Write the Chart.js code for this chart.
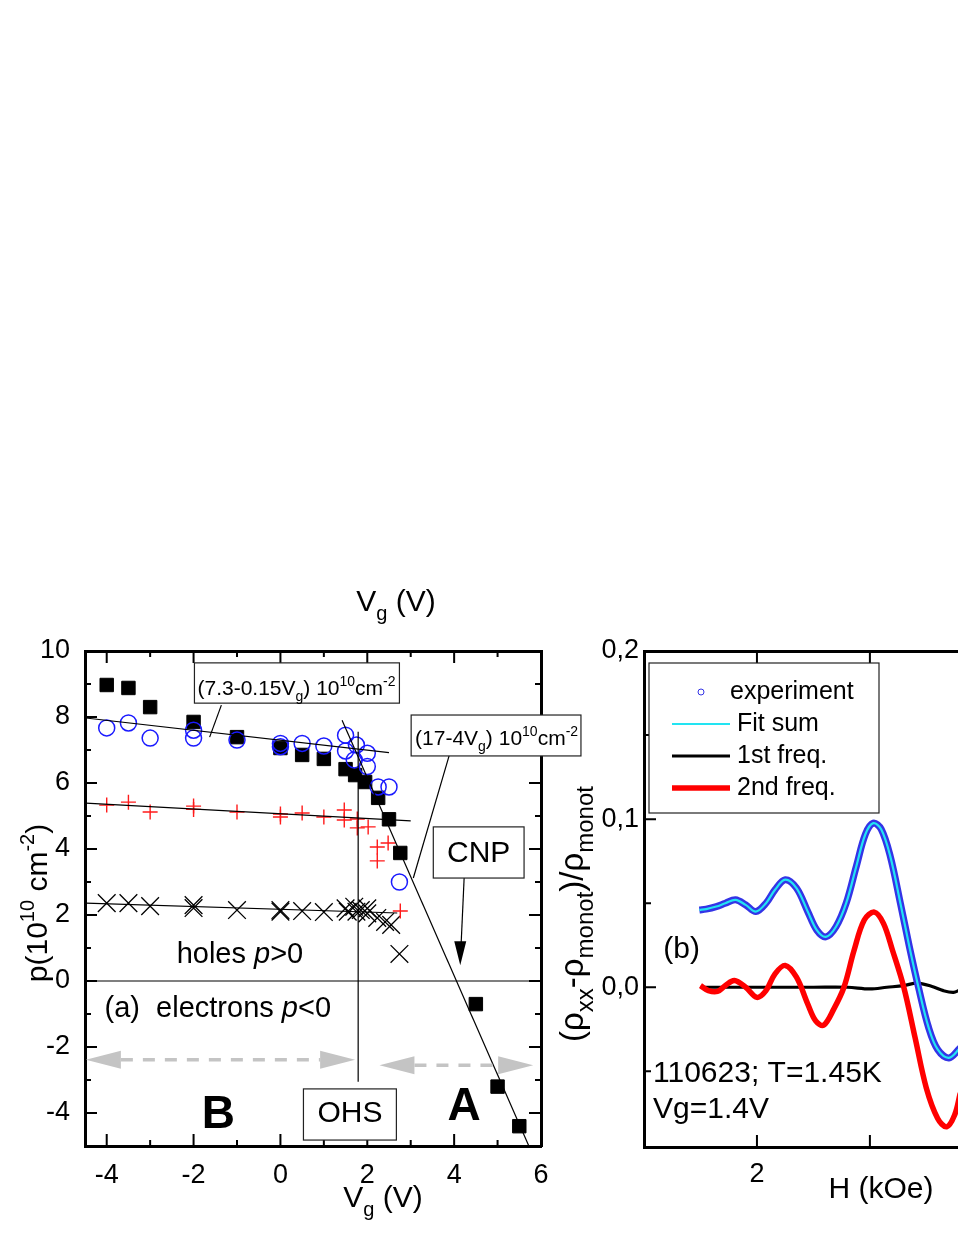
<!DOCTYPE html>
<html>
<head>
<meta charset="utf-8">
<title>p(Vg) and oscillations</title>
<script src="https://cdn.jsdelivr.net/npm/chart.js@4.4.1/dist/chart.umd.min.js"></script>
<style>
  html, body { margin: 0; padding: 0; background: #fff; overflow: hidden; }
  canvas { position: absolute; left: 0; top: 0; }
</style>
</head>
<body>
<canvas id="panelA" width="958" height="1239"></canvas>
<canvas id="panelB" width="958" height="1239"></canvas>
<script>
// ---------- panel (a): carrier density vs gate voltage ----------
const squareVg = [-4, -3.5, -3, -2, -1, 0, 0.5, 1, 1.5, 1.72, 1.95, 2.25, 2.5, 2.76, 4.5, 5, 5.5];
const squareP  = [8.97, 8.88, 8.3, 7.85, 7.39, 7.06, 6.85, 6.73, 6.42, 6.24, 6.03, 5.55, 4.9, 3.88, -0.7, -3.2, -4.4];

const circleVg = [-4, -3.5, -3, -2, -2, -1, 0, 0, 0.5, 1, 1.5, 1.5, 1.75, 1.7, 2, 2, 2.25, 2.5, 2.74];
const circleP  = [7.67, 7.82, 7.36, 7.6, 7.36, 7.3, 7.2, 7.1, 7.2, 7.12, 7.45, 6.97, 7.15, 6.7, 6.9, 6.5, 5.88, 5.88, 3.0];

const plusVg = [-4, -3.5, -3, -2, -2, -1, 0, 0, 0.5, 1, 1.47, 1.47, 1.77, 1.77, 2.02, 2.23, 2.23, 2.48, 2.76];
const plusP  = [5.33, 5.42, 5.12, 5.3, 5.2, 5.12, 5.06, 4.97, 5.09, 4.97, 5.18, 4.88, 4.91, 4.64, 4.67, 4.06, 3.64, 4.18, 2.12];

const crossVg = [-4, -3.5, -3, -2, -2, -1, 0, 0, 0.5, 1, 1.5, 1.55, 1.7, 1.75, 1.85, 2.0, 2.0, 2.23, 2.41, 2.55, 2.74];
const crossP  = [2.36, 2.36, 2.27, 2.3, 2.21, 2.15, 2.15, 2.1, 2.12, 2.09, 2.2, 2.1, 2.25, 2.1, 2.15, 2.2, 2.05, 1.91, 1.79, 1.7, 0.82];

// fitted straight lines (end points)
const fitHolesVg = [-4.48, 2.5],  fitHolesP = [7.97, 6.92];
const fitPlusVg  = [-4.48, 3.0],  fitPlusP  = [5.39, 4.85];
const fitCrossVg = [-4.48, 2.69], fitCrossP = [2.36, 2.06];
const fitSteepVg = [1.42, 5.72],  fitSteepP = [7.9, -5.0];
const ohsVg = [1.79, 1.79],       ohsP = [7.55, -3.05];
const zeroVg = [-4.5, 6],         zeroP = [0, 0];

const vgMajor = [-4, -2, 0, 2, 4, 6];
const vgMinor = [-3, -1, 1, 3, 5];
const pMajor = [-4, -2, 0, 2, 4, 6, 8, 10];
const pMinor = [-3, -1, 1, 3, 5, 7, 9];

// ---------- panel (b): oscillating part of rho_xx ----------
const fieldH = [1.49, 1.55, 1.64, 1.72, 1.81, 1.90, 1.99, 2.08, 2.16, 2.25, 2.35, 2.45, 2.53, 2.61, 2.70, 2.79, 2.88, 2.96, 3.03, 3.10, 3.18, 3.27, 3.35, 3.43, 3.52, 3.60, 3.70, 3.80];
const experiment = [0.046, 0.0465, 0.048, 0.050, 0.052, 0.049, 0.045, 0.050, 0.058, 0.064, 0.059, 0.045, 0.034, 0.030, 0.036, 0.050, 0.072, 0.091, 0.0976, 0.094, 0.078, 0.050, 0.024, 0.000, -0.024, -0.037, -0.042, -0.036];

const firstH = [1.50, 2.00, 2.50, 2.80, 3.00, 3.15, 3.30, 3.42, 3.55, 3.65, 3.74, 3.80];
const firstFreq = [0.000, 0.000, 0.000, 0.000, -0.001, 0.000, 0.001, 0.0025, 0.0005, -0.002, -0.003, -0.0015];

const secondH = [1.50, 1.57, 1.65, 1.72, 1.80, 1.90, 2.00, 2.08, 2.16, 2.25, 2.35, 2.45, 2.52, 2.59, 2.68, 2.77, 2.86, 2.95, 3.04, 3.12, 3.20, 3.30, 3.40, 3.50, 3.60, 3.68, 3.75, 3.80];
const secondFreq = [0.001, -0.002, -0.0025, 0.001, 0.004, 0.000, -0.006, -0.002, 0.008, 0.013, 0.006, -0.010, -0.020, -0.0226, -0.013, 0.000, 0.022, 0.040, 0.0447, 0.038, 0.022, 0.000, -0.030, -0.060, -0.078, -0.083, -0.076, -0.063];

const hTicks = [2, 3];
const hLabels = [2];
const rhoMajor = [0, 0.1, 0.2];
const rhoMinor = [-0.05, 0.05, 0.15];

const FONT = "'Liberation Sans', Arial, Helvetica, sans-serif";
Chart.defaults.font.family = FONT;
Chart.defaults.color = '#000';

const pts = (xs, ys) => xs.map((x, i) => ({ x, y: ys[i] }));

// text with sub/superscripts and italics, y is the baseline
function rich(ctx, parts, x, y, size, align, ratio) {
  const small = Math.round(size * (ratio || 0.68));
  const fontOf = k => (k === 'it' ? 'italic ' : '') + (k === 'sub' || k === 'sup' ? small : size) + 'px ' + FONT;
  let total = 0;
  parts.forEach(([t, k]) => { ctx.font = fontOf(k); total += ctx.measureText(t).width; });
  let cx = align === 'center' ? x - total / 2 : align === 'right' ? x - total : x;
  ctx.textAlign = 'left';
  ctx.textBaseline = 'alphabetic';
  parts.forEach(([t, k]) => {
    ctx.font = fontOf(k);
    const dy = k === 'sub' ? size * 0.3 : k === 'sup' ? -size * 0.42 : 0;
    ctx.fillText(t, cx, y + dy);
    cx += ctx.measureText(t).width;
  });
}

function inwardTicks(chart, id, values, len) {
  const { ctx, chartArea: a } = chart;
  const s = chart.scales[id];
  ctx.save();
  ctx.strokeStyle = '#000';
  ctx.lineWidth = 2;
  ctx.beginPath();
  values.forEach(v => {
    const p = s.getPixelForValue(v);
    if (s.position === 'bottom') { ctx.moveTo(p, a.bottom); ctx.lineTo(p, a.bottom - len); }
    else if (s.position === 'top') { ctx.moveTo(p, a.top); ctx.lineTo(p, a.top + len); }
    else if (s.position === 'left') { ctx.moveTo(a.left, p); ctx.lineTo(a.left + len, p); }
    else { ctx.moveTo(a.right, p); ctx.lineTo(a.right - len, p); }
  });
  ctx.stroke();
  ctx.restore();
}

function segment(ctx, x1, y1, x2, y2) {
  ctx.beginPath(); ctx.moveTo(x1, y1); ctx.lineTo(x2, y2); ctx.stroke();
}

function textBox(ctx, x1, y1, x2, y2) {
  ctx.fillStyle = '#fff';
  ctx.fillRect(x1, y1, x2 - x1, y2 - y1);
  ctx.strokeStyle = '#222';
  ctx.lineWidth = 1.2;
  ctx.strokeRect(x1, y1, x2 - x1, y2 - y1);
  ctx.fillStyle = '#000';
}

function grayArrow(ctx, x1, x2, y) {
  const head = 35, half = 9;
  ctx.save();
  ctx.strokeStyle = '#c4c4c4';
  ctx.fillStyle = '#c4c4c4';
  ctx.lineWidth = 3.5;
  ctx.setLineDash([12, 10]);
  segment(ctx, x1 + head, y, x2 - head, y);
  ctx.setLineDash([]);
  ctx.beginPath();
  ctx.moveTo(x1, y); ctx.lineTo(x1 + head, y - half); ctx.lineTo(x1 + head, y + half); ctx.closePath();
  ctx.moveTo(x2, y); ctx.lineTo(x2 - head, y - half); ctx.lineTo(x2 - head, y + half); ctx.closePath();
  ctx.fill();
  ctx.restore();
}

const decorA = {
  id: 'decorA',
  afterDraw(chart) {
    const ctx = chart.ctx;
    const sx = chart.scales.x, sy = chart.scales.y;
    const X = v => sx.getPixelForValue(v), Y = v => sy.getPixelForValue(v);

    inwardTicks(chart, 'x', vgMajor, 12);
    inwardTicks(chart, 'x', vgMinor, 6);
    inwardTicks(chart, 'x2', vgMajor, 12);
    inwardTicks(chart, 'x2', vgMinor, 6);
    inwardTicks(chart, 'y', pMajor, 12);
    inwardTicks(chart, 'y', pMinor, 6);
    inwardTicks(chart, 'y2', pMajor, 12);
    inwardTicks(chart, 'y2', pMinor, 6);

    ctx.save();
    ctx.strokeStyle = '#000';
    ctx.lineWidth = 1.2;
    // leader lines from the formula boxes
    segment(ctx, X(-1.36), Y(8.36), X(-1.63), Y(7.39));
    segment(ctx, X(3.89), Y(6.85), X(3.06), Y(3.12));
    // CNP arrow
    segment(ctx, X(4.23), Y(3.12), X(4.16), Y(1.1));
    ctx.fillStyle = '#000';
    ctx.beginPath();
    ctx.moveTo(X(4.14), Y(0.48));
    ctx.lineTo(X(4.14) - 6, Y(0.48) - 24);
    ctx.lineTo(X(4.14) + 6, Y(0.48) - 24);
    ctx.closePath();
    ctx.fill();

    // boxes
    textBox(ctx, X(-1.98), Y(9.64), X(2.74), Y(8.42));
    rich(ctx, [['(7.3-0.15V', ''], ['g', 'sub'], [') 10', ''], ['10', 'sup'], ['cm', ''], ['-2', 'sup']],
      X(-1.91), Y(8.67), 21, 'left');
    textBox(ctx, X(3.01), Y(8.06), X(6.92), Y(6.82));
    rich(ctx, [['(17-4V', ''], ['g', 'sub'], [') 10', ''], ['10', 'sup'], ['cm', ''], ['-2', 'sup']],
      X(3.10), Y(7.15), 21, 'left');
    textBox(ctx, X(3.52), Y(4.67), X(5.61), Y(3.12));
    ctx.font = '30px ' + FONT; ctx.textAlign = 'center'; ctx.textBaseline = 'middle';
    ctx.fillText('CNP', X(4.565), Y(3.86));
    textBox(ctx, X(0.53), Y(-3.27), X(2.67), Y(-4.82));
    ctx.font = '30px ' + FONT; ctx.textAlign = 'center'; ctx.textBaseline = 'middle';
    ctx.fillText('OHS', X(1.6), Y(-4.02));

    // region labels
    rich(ctx, [['holes ', ''], ['p', 'it'], ['>0', '']], X(-2.39), Y(0.55), 29, 'left');
    rich(ctx, [['(a)  electrons ', ''], ['p', 'it'], ['<0', '']], X(-4.05), Y(-1.09), 29, 'left');
    ctx.font = 'bold 46px ' + FONT; ctx.textAlign = 'center'; ctx.textBaseline = 'alphabetic';
    ctx.fillText('B', X(-1.43), Y(-4.45));
    ctx.fillText('A', X(4.23), Y(-4.21));

    grayArrow(ctx, X(-4.48), X(1.72), Y(-2.39));
    grayArrow(ctx, X(2.28), X(5.82), Y(-2.55));

    // axis titles
    ctx.fillStyle = '#000';
    rich(ctx, [['V', ''], ['g', 'sub'], [' (V)', '']], 396, 611, 30, 'center');
    rich(ctx, [['V', ''], ['g', 'sub'], [' (V)', '']], 383, 1207, 30, 'center');
    ctx.translate(47, 903);
    ctx.rotate(-Math.PI / 2);
    rich(ctx, [['p(10', ''], ['10', 'sup'], [' cm', ''], ['-2', 'sup'], [')', '']], 0, 0, 30, 'center');
    ctx.restore();
  }
};

const lineSet = (xs, ys) => ({
  data: pts(xs, ys), showLine: true, pointRadius: 0, borderColor: '#000', borderWidth: 1.2, order: 0
});

const frame = { display: true, width: 3, color: '#000' };
const noGrid = { display: false, drawTicks: false };

new Chart(document.getElementById('panelA'), {
  type: 'scatter',
  data: {
    datasets: [
      { data: pts(circleVg, circleP), pointStyle: 'circle', pointRadius: 8, borderWidth: 1.5,
        borderColor: '#1a1aff', backgroundColor: 'rgba(0,0,0,0)', order: 1 },
      { data: pts(squareVg, squareP), pointStyle: 'rect', pointRadius: 9.5, borderWidth: 1,
        borderColor: '#000', backgroundColor: '#000', order: 2 },
      { data: pts(plusVg, plusP), pointStyle: 'cross', pointRadius: 7.5, borderWidth: 1.4,
        borderColor: '#ff1a1a', order: 3 },
      { data: pts(crossVg, crossP), pointStyle: 'crossRot', pointRadius: 12.5, borderWidth: 1.3,
        borderColor: '#000', order: 4 },
      lineSet(fitHolesVg, fitHolesP),
      lineSet(fitPlusVg, fitPlusP),
      lineSet(fitCrossVg, fitCrossP),
      lineSet(fitSteepVg, fitSteepP),
      lineSet(ohsVg, ohsP),
      lineSet(zeroVg, zeroP)
    ]
  },
  options: {
    responsive: false,
    animation: false,
    layout: { padding: 0 },
    plugins: { legend: { display: false }, tooltip: { enabled: false } },
    scales: {
      x: {
        type: 'linear', position: 'bottom', min: -4.5, max: 6,
        grid: noGrid, border: frame,
        ticks: { font: { size: 27 }, padding: 13, maxRotation: 0, autoSkip: false },
        afterBuildTicks: s => { s.ticks = vgMajor.map(v => ({ value: v })); },
        afterFit: s => { s.height = 93; }
      },
      x2: {
        type: 'linear', position: 'top', min: -4.5, max: 6,
        grid: noGrid, border: frame, ticks: { display: false },
        afterFit: s => { s.height = 651; }
      },
      y: {
        type: 'linear', position: 'left', min: -5, max: 10,
        grid: noGrid, border: frame,
        ticks: { font: { size: 27 }, padding: 15 },
        afterBuildTicks: s => { s.ticks = pMajor.map(v => ({ value: v })); },
        afterFit: s => { s.width = 85; }
      },
      y2: {
        type: 'linear', position: 'right', min: -5, max: 10,
        grid: noGrid, border: frame, ticks: { display: false },
        afterFit: s => { s.width = 417; }
      }
    }
  },
  plugins: [decorA]
});

const decorB = {
  id: 'decorB',
  afterDraw(chart) {
    const ctx = chart.ctx;
    const a = chart.chartArea;
    const sx = chart.scales.x, sy = chart.scales.y;
    const X = v => sx.getPixelForValue(v), Y = v => sy.getPixelForValue(v);
    const ds = chart.data.datasets;

    inwardTicks(chart, 'x', hTicks, 12);
    inwardTicks(chart, 'x2', hTicks, 12);
    inwardTicks(chart, 'y', rhoMajor, 12);
    inwardTicks(chart, 'y', rhoMinor, 7);

    ctx.save();
    // legend box
    const bx = a.left + 5, by = a.top + 12;
    textBox(ctx, bx, by, bx + 230, by + 150);
    ctx.font = '25px ' + FONT; ctx.textAlign = 'left'; ctx.textBaseline = 'middle';
    ctx.strokeStyle = ds[1].borderColor; ctx.lineWidth = 1;
    ctx.beginPath(); ctx.arc(bx + 52, by + 29, 3, 0, Math.PI * 2); ctx.stroke();
    ctx.fillText('experiment', bx + 81, by + 29);
    const rows = [[ds[0], 'Fit sum', 61], [ds[3], '1st freq.', 93], [ds[2], '2nd freq.', 125]];
    rows.forEach(([d, label, dy]) => {
      ctx.strokeStyle = d.borderColor;
      ctx.lineWidth = d.borderWidth;
      segment(ctx, bx + 23, by + dy, bx + 81, by + dy);
      ctx.fillText(label, bx + 88, by + dy);
    });

    ctx.fillStyle = '#000';
    rich(ctx, [['(b)', '']], X(1.17), Y(0.0173), 30, 'left');
    rich(ctx, [['110623; T=1.45K', '']], X(1.08), Y(-0.0565), 30, 'left');
    rich(ctx, [['Vg=1.4V', '']], X(1.08), Y(-0.078), 30, 'left');

    rich(ctx, [['H (kOe)', '']], 881, 1198, 30, 'center');
    ctx.translate(583, 914);
    ctx.rotate(-Math.PI / 2);
    rich(ctx, [['(ρ', ''], ['xx', 'sub'], ['-ρ', ''], ['monot', 'sub'], [')/ρ', ''], ['monot', 'sub']], 0, 0, 33, 'center', 0.74);
    ctx.restore();
  }
};

const curve = (xs, ys, color, width, order) => ({
  data: pts(xs, ys), showLine: true, pointRadius: 0, borderColor: color, borderWidth: width,
  tension: 0.35, order
});

new Chart(document.getElementById('panelB'), {
  type: 'scatter',
  data: {
    datasets: [
      curve(fieldH, experiment, '#22e4f2', 2.2, 0),
      curve(fieldH, experiment, '#3434e6', 7, 1),
      curve(secondH, secondFreq, '#ff0000', 5.5, 2),
      curve(firstH, firstFreq, '#000000', 3.2, 3)
    ]
  },
  options: {
    responsive: false,
    animation: false,
    layout: { padding: 0 },
    plugins: { legend: { display: false }, tooltip: { enabled: false } },
    scales: {
      x: {
        type: 'linear', position: 'bottom', min: 1, max: 3.78,
        grid: noGrid, border: frame,
        ticks: { font: { size: 27 }, padding: 11, maxRotation: 0, autoSkip: false },
        afterBuildTicks: s => { s.ticks = hLabels.map(v => ({ value: v })); },
        afterFit: s => { s.height = 92; }
      },
      x2: {
        type: 'linear', position: 'top', min: 1, max: 3.78,
        grid: noGrid, border: frame, ticks: { display: false },
        afterFit: s => { s.height = 651; }
      },
      y: {
        type: 'linear', position: 'left', min: -0.095, max: 0.2,
        grid: noGrid, border: frame,
        ticks: { font: { size: 27 }, padding: 5, callback: v => v.toFixed(1).replace('.', ',') },
        afterBuildTicks: s => { s.ticks = rhoMajor.map(v => ({ value: v })); },
        afterFit: s => { s.width = 644; }
      }
    }
  },
  plugins: [decorB]
});
</script>
</body>
</html>
